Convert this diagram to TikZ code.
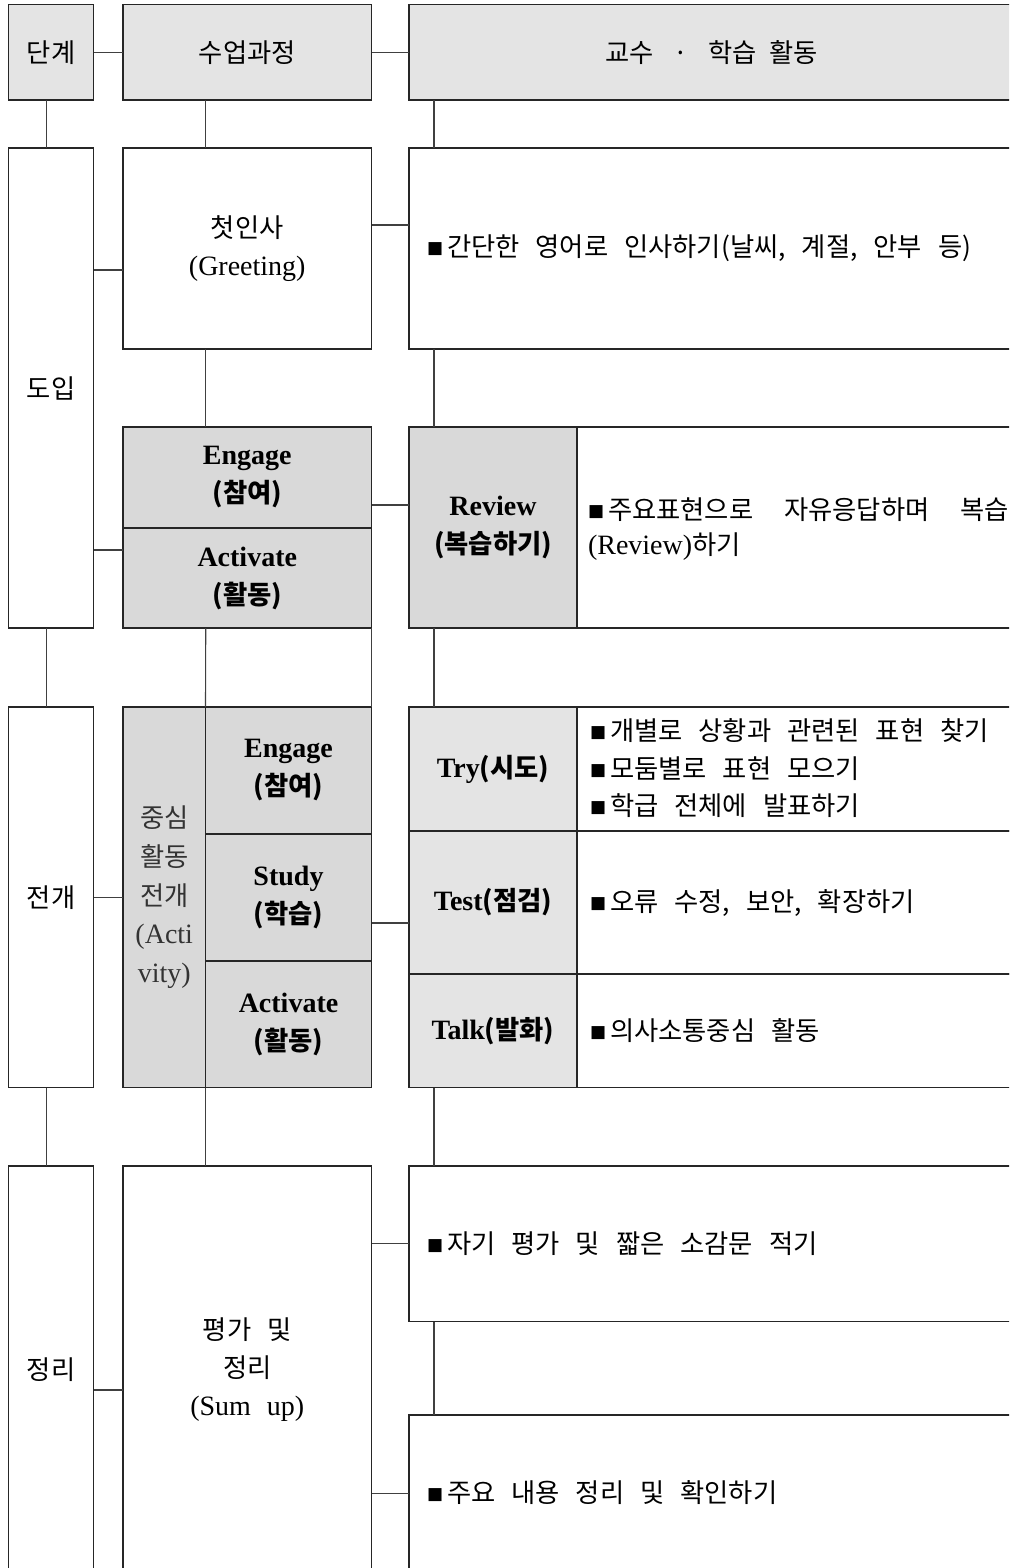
\documentclass[tikz,border=0pt]{standalone}
\usepackage{fontspec}
\setmainfont{Liberation Serif}
\newfontfamily\kr[Scale=0.94]{Noto Sans CJK KR}
\newfontfamily\symf{DejaVu Sans}
\usetikzlibrary{calc}
\definecolor{hdrgray}{HTML}{E4E4E4}
\definecolor{midgray}{HTML}{D9D9D9}
\definecolor{trygray}{HTML}{E4E4E4}
\newcommand{\basefont}{\fontsize{28}{38}\selectfont\spaceskip=16pt\relax}
\newcommand{\corefont}{\fontsize{28}{38.75}\selectfont}
\newcommand{\bul}{\leavevmode\raisebox{3pt}{\symf\fontsize{17}{17}\selectfont ■}\hspace{4pt}}
\tikzset{
  box/.style={draw=black!85, line width=1.2pt, inner sep=0pt, outer sep=0pt, align=center, font=\basefont},
  boldbox/.style={box, font=\basefont\bfseries},
  conn/.style={draw=black!75, line width=1.1pt},
  txt/.style={anchor=west, inner sep=0pt, outer sep=0pt, align=left, font=\basefont},
}
\begin{document}
\begin{tikzpicture}[x=1pt,y=-1pt]
\useasboundingbox (0,0) rectangle (1009,1568);
\fill[white] (0,0) rectangle (1009,1568);
\begin{scope}
\clip (0,0) rectangle (1009,1568);
% header
\node[box, fill=hdrgray, minimum width=85pt, minimum height=95.5pt] (stage) at (51,52.25) {\kr 단계};
\node[box, fill=hdrgray, minimum width=248.5pt, minimum height=95.5pt] (course) at (247.25,52.25) {\kr 수업과정};
\node[box, fill=hdrgray, minimum width=605pt, minimum height=95.5pt] (act) at (711.5,52.25) {\kr 교수\hspace{20pt}·\hspace{20pt}학습\hspace{12pt}활동};
% row 1 (도입)
\node[box, minimum width=85pt, minimum height=480pt] (intro) at (51,388) {\kr 도입};
\node[box, minimum width=248.5pt, minimum height=201pt] (greet) at (247.25,248.5) {{\kr 첫인사}\\(Greeting)};
\node[box, minimum width=605pt, minimum height=201pt] (greetTxt) at (711.5,248.5) {};
\node[txt] (greetLine) at (427,248) {\bul{\kr 간단한 영어로 인사하기(날씨, 계절, 안부 등)}};
\node[boldbox, fill=midgray, minimum width=248.5pt, minimum height=101pt] (engage1) at (247.25,477.5) {Engage\\{\kr\bfseries (참여)}};
\node[boldbox, fill=midgray, minimum width=248.5pt, minimum height=100pt] (activate1) at (247.25,578) {Activate\\{\kr\bfseries (활동)}};
\node[boldbox, fill=midgray, minimum width=168pt, minimum height=201pt] (review) at (493,527.5) {Review\\{\kr\bfseries (복습하기)}};
\node[box, minimum width=437pt, minimum height=201pt] (reviewTxt) at (795.5,527.5) {};
\node[txt] (reviewLine1) at (588,510) {\makebox[421pt][l]{\bul{\kr 주요표현으로}\hfill{\kr 자유응답하며}\hfill{\kr 복습}}};
\node[txt] (reviewLine2) at (588,547) {(Review){\kr 하기}};
% row 2 (전개)
\node[box, minimum width=85pt, minimum height=380.5pt] (dev) at (51,897.25) {\kr 전개};
\node[box, fill=midgray, text=black!80, minimum width=82.5pt, minimum height=380.5pt, font=\corefont] (core) at (164.25,897.25) {{\kr 중심}\\{\kr 활동}\\{\kr 전개}\\(Acti\\vity)};
\node[boldbox, fill=midgray, minimum width=166pt, minimum height=127pt] (engage2) at (288.5,770.5) {Engage\\{\kr\bfseries (참여)}};
\node[boldbox, fill=midgray, minimum width=166pt, minimum height=127pt] (study) at (288.5,897.5) {Study\\{\kr\bfseries (학습)}};
\node[boldbox, fill=midgray, minimum width=166pt, minimum height=126.5pt] (activate2) at (288.5,1024.25) {Activate\\{\kr\bfseries (활동)}};
\node[boldbox, fill=trygray, minimum width=168pt, minimum height=124pt] (try) at (493,769) {Try{\kr\bfseries (시도)}};
\node[boldbox, fill=trygray, minimum width=168pt, minimum height=143pt] (test) at (493,902.5) {Test{\kr\bfseries (점검)}};
\node[boldbox, fill=trygray, minimum width=168pt, minimum height=113.5pt] (talk) at (493,1030.75) {Talk{\kr\bfseries (발화)}};
\node[box, minimum width=437pt, minimum height=124pt] (tryTxt) at (795.5,769) {};
\node[box, minimum width=437pt, minimum height=143pt] (testTxt) at (795.5,902.5) {};
\node[box, minimum width=437pt, minimum height=113.5pt] (talkTxt) at (795.5,1030.75) {};
\node[txt] (tryLine1) at (590,731) {\bul{\kr 개별로 상황과 관련된 표현 찾기}};
\node[txt] (tryLine2) at (590,769) {\bul{\kr 모둠별로 표현 모으기}};
\node[txt] (tryLine3) at (590,806) {\bul{\kr 학급 전체에 발표하기}};
\node[txt] (testLine) at (590,903) {\bul{\kr 오류 수정, 보안, 확장하기}};
\node[txt] (talkLine) at (590,1031) {\bul{\kr 의사소통중심 활동}};
% row 3 (정리)
\node[box, minimum width=85pt, minimum height=407pt] (sum) at (51,1369.5) {\kr 정리};
\node[box, minimum width=248.5pt, minimum height=407pt] (sumup) at (247.25,1369.5) {{\kr 평가 및}\\{\kr 정리}\\(Sum up)};
\node[box, minimum width=605pt, minimum height=155.5pt] (self) at (711.5,1243.75) {};
\node[txt] (selfLine) at (427,1244) {\bul{\kr 자기 평가 및 짧은 소감문 적기}};
\node[box, minimum width=605pt, minimum height=157pt] (recap) at (711.5,1493.5) {};
\node[txt] (recapLine) at (427,1493) {\bul{\kr 주요 내용 정리 및 확인하기}};
% connectors
\draw[conn] (stage.east) -- (course.west);
\draw[conn] (course.east) -- (act.west);
\draw[conn] ([xshift=-4.3pt]stage.south) -- ([xshift=-4.3pt]intro.north);
\draw[conn] ([xshift=-41.5pt]course.south) -- ([xshift=-41.5pt]greet.north);
\draw[conn] ([xshift=25pt]act.south west) -- ([xshift=25pt]greetTxt.north west);
\draw[conn] ([yshift=-21.5pt]greet.west) -- ([yshift=-21.5pt]greet.west -| intro.east);
\draw[conn] ([yshift=23.5pt]greet.east) -- ([yshift=23.5pt]greet.east -| greetTxt.west);
\draw[conn] ([xshift=-41.5pt]greet.south) -- ([xshift=-41.5pt]engage1.north);
\draw[conn] ([xshift=25pt]greetTxt.south west) -- ([xshift=25pt]review.north west);
\draw[conn] ([yshift=22.5pt]review.west) -- ([yshift=22.5pt]review.west -| engage1.east);
\draw[conn] ([yshift=28pt]activate1.west) -- ([yshift=28pt]activate1.west -| intro.east);
\draw[conn] ([xshift=-4.3pt]intro.south) -- ([xshift=-4.3pt]dev.north);
\draw[conn] ([xshift=-41.5pt]activate1.south) -- (engage2.north west);
\draw[conn] (activate1.south east) -- (engage2.north east);
\draw[conn] ([xshift=25pt]review.south west) -- ([xshift=25pt]try.north west);
\draw[conn] (dev.east) -- (core.west);
\draw[conn] ([yshift=-25.5pt]study.east) -- ([yshift=-25.5pt]study.east -| test.west);
\draw[conn] ([xshift=-4.3pt]dev.south) -- ([xshift=-4.3pt]sum.north);
\draw[conn] (core.south east) -- (core.south east |- sumup.north);
\draw[conn] ([xshift=25pt]talk.south west) -- ([xshift=25pt]self.north west);
\draw[conn] ([yshift=-20.5pt]sum.east) -- ([yshift=-20.5pt]sum.east -| sumup.west);
\draw[conn] (self.west) -- (self.west -| sumup.east);
\draw[conn] ([xshift=25pt]self.south west) -- ([xshift=25pt]recap.north west);
\draw[conn] (recap.west) -- (recap.west -| sumup.east);
\end{scope}
\end{tikzpicture}
\end{document}
